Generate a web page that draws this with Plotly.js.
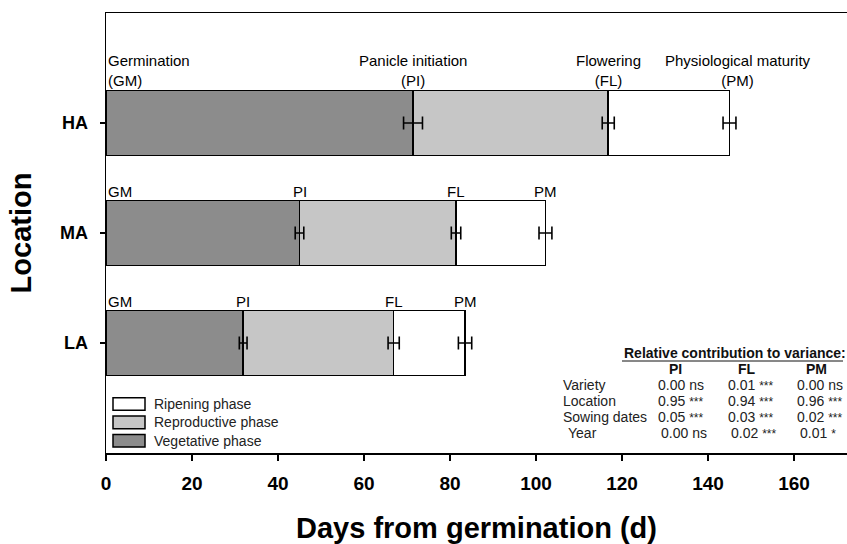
<!DOCTYPE html>
<html>
<head>
<meta charset="utf-8">
<script src="https://cdn.plot.ly/plotly-3.0.1.min.js"></script>
<style>
html,body{margin:0;padding:0;background:#fff;overflow:hidden;}
#chart{width:847px;height:544px;}
</style>
</head>
<body>
<div id="chart"></div>
<script>
// ---- data ----
const locations = ['HA', 'MA', 'LA'];
const piDays = [71.4, 45.0, 31.9];
const flDays = [116.8, 81.4, 66.9];
const pmDays = [145.0, 102.2, 83.5];
const piErr = [2.2, 1.0, 0.9];
const flErr = [1.4, 1.1, 1.3];
const pmErr = [1.5, 1.5, 1.55];
const phaseNames = ['Vegetative phase', 'Reproductive phase', 'Ripening phase'];
const stageNames = ['Germination', 'Panicle initiation', 'Flowering', 'Physiological maturity'];
const stageAbbr = ['GM', 'PI', 'FL', 'PM'];
const xTicks = [0, 20, 40, 60, 80, 100, 120, 140, 160];
const varSources = ['Variety', 'Location', 'Sowing dates', 'Year'];
const varStages = ['PI', 'FL', 'PM'];
const contribPI = [0.00, 0.95, 0.05, 0.00];
const contribFL = [0.01, 0.94, 0.03, 0.02];
const contribPM = [0.00, 0.96, 0.02, 0.01];
const sigPI = ['ns', '***', '***', 'ns'];
const sigFL = ['***', '***', '***', '***'];
const sigPM = ['ns', '***', '***', '*'];
const tableTitle = 'Relative contribution to variance:';

// ---- layout helpers (pixel geometry) ----
const W = 847, Hh = 544;
const mL = 106, mR = 0, mT = 13, mB = 91;
const pw = W - mL - mR, ph = Hh - mT - mB;
const px = x => (x - mL) / pw;
const py = y => (mT + ph - y) / ph;
const FONT = 'Liberation Sans, Arial, sans-serif';
const barW = 0.594;
const catIndex = {LA: 0, MA: 1, HA: 2};

const phaseColors = ['#8c8c8c', '#c6c6c6', '#ffffff'];
const sizes = [
  piDays,
  flDays.map((v, i) => v - piDays[i]),
  pmDays.map((v, i) => v - flDays[i])
];
const stageDays = [piDays, flDays, pmDays];
const errs = [piErr, flErr, pmErr];

const traces = phaseNames.map((name, k) => ({
  type: 'bar',
  orientation: 'h',
  name: name,
  y: locations,
  x: sizes[k],
  width: barW,
  marker: {color: phaseColors[k], line: {color: '#000', width: 1.5}},
  hoverinfo: 'x+y+name',
  showlegend: false
}));
// error bars at each stage end, drawn on top of the bars
stageAbbr.slice(1).forEach((ab, k) => {
  traces.push({
    type: 'scatter', mode: 'markers',
    name: ab,
    y: locations, x: stageDays[k],
    marker: {size: 1, color: 'rgba(0,0,0,0)'},
    error_x: {type: 'data', array: errs[k], visible: true, color: '#000', thickness: 1.6, width: 6.5},
    showlegend: false
  });
});

const annotations = [];
const shapes = [];
// stage labels above bars
locations.forEach((loc, i) => {
  const yTop = catIndex[loc] + barW / 2;
  const stageVals = [0, piDays[i], flDays[i], pmDays[i]];
  stageAbbr.forEach((ab, s) => {
    const first = (i === 0);
    const txt = first ? stageNames[s] + '<br>(' + ab + ')' : ab;
    annotations.push({
      xref: 'x', yref: 'y',
      x: stageVals[s], y: yTop,
      xanchor: s === 0 ? 'left' : 'center',
      yanchor: 'bottom',
      align: s === 0 ? 'left' : 'center',
      xshift: s === 0 ? 0 : (s === 3 && first ? 8 : 0),
      yshift: first ? -1 : -2,
      text: txt, showarrow: false,
      font: {family: FONT, size: 15, color: '#000'}
    });
  });
});

// legend (drawn manually to match the wide boxes)
const legRowY = [404, 422.4, 440.8];
phaseNames.slice().reverse().forEach((name, r) => {
  const k = phaseNames.length - 1 - r;
  shapes.push({
    type: 'rect', xref: 'paper', yref: 'paper',
    x0: px(113), x1: px(145), y0: py(legRowY[r] - 6.3), y1: py(legRowY[r] + 6.3),
    fillcolor: phaseColors[k], line: {color: '#000', width: 1.5}
  });
  annotations.push({
    xref: 'paper', yref: 'paper', x: px(152), y: py(legRowY[r]),
    xanchor: 'left', yanchor: 'middle', showarrow: false,
    text: name, font: {family: FONT, size: 14, color: '#222'}
  });
});

// variance table
const tFont = {family: FONT, size: 14, color: '#222'};
const titleX = 622;
annotations.push({
  xref: 'paper', yref: 'paper', x: px(titleX), y: py(353),
  xanchor: 'left', yanchor: 'middle', showarrow: false,
  text: '<b>' + tableTitle + '</b>',
  font: {family: FONT, size: 14, color: '#111'}
});
shapes.push({
  type: 'line', xref: 'paper', yref: 'paper',
  x0: px(titleX), x1: px(titleX + 221), y0: py(361), y1: py(361),
  line: {color: '#111', width: 1}
});
const colHeadX = [675, 747, 816];
const colValX = [656, 726, 795];
varStages.forEach((st, c) => {
  annotations.push({
    xref: 'paper', yref: 'paper', x: px(colHeadX[c]), y: py(369),
    xanchor: 'center', yanchor: 'middle', showarrow: false,
    text: '<b>' + st + '</b>', font: {family: FONT, size: 14, color: '#111'}
  });
});
const contribs = [contribPI, contribFL, contribPM];
const sigs = [sigPI, sigFL, sigPM];
const rowY = [385, 401, 417, 433];
varSources.forEach((src, r) => {
  annotations.push({
    xref: 'paper', yref: 'paper', x: px(src === 'Year' ? 566 : 561), y: py(rowY[r]),
    xanchor: 'left', yanchor: 'middle', showarrow: false,
    text: src, font: tFont
  });
  varStages.forEach((st, c) => {
    const sg = sigs[c][r];
    const sgTxt = sg === 'ns' ? 'ns' : '<span style="font-size:12px">' + sg + '</span>';
    annotations.push({
      xref: 'paper', yref: 'paper', x: px(colValX[c] + (src === 'Year' ? 3 : 0)), y: py(rowY[r]),
      xanchor: 'left', yanchor: 'middle', showarrow: false,
      text: contribs[c][r].toFixed(2) + ' ' + sgTxt, font: tFont
    });
  });
});

const layout = {
  width: W, height: Hh,
  margin: {l: mL, r: mR, t: mT, b: mB},
  paper_bgcolor: '#fff', plot_bgcolor: '#fff',
  barmode: 'stack',
  bargap: 0,
  showlegend: false,
  xaxis: {
    range: [0, (W - mL - mR) / 4.3],
    tickvals: xTicks, ticktext: xTicks.map(String),
    showgrid: false, zeroline: false,
    showline: true, linecolor: '#000', linewidth: 1.5, mirror: true,
    ticks: 'outside', ticklen: 6, tickwidth: 1.5, tickcolor: '#000',
    tickfont: {family: FONT, size: 19, color: '#000', weight: 'bold'},
    ticklabelstandoff: 7,
    title: {text: 'Days from germination (d)', standoff: 24,
            font: {family: FONT, size: 29, color: '#000', weight: 'bold'}}
  },
  yaxis: {
    type: 'category',
    categoryorder: 'array', categoryarray: ['LA', 'MA', 'HA'],
    range: [-1, 3],
    showgrid: false, zeroline: false,
    showline: true, linecolor: '#000', linewidth: 1.5, mirror: false,
    ticks: 'outside', ticklen: 5, tickwidth: 1.5, tickcolor: '#000',
    tickfont: {family: FONT, size: 18, color: '#000', weight: 'bold'},
    ticklabelstandoff: 8,
    title: {text: 'Location', standoff: 20,
            font: {family: FONT, size: 29, color: '#000', weight: 'bold'}}
  },
  annotations: annotations,
  shapes: shapes
};

Plotly.newPlot('chart', traces, layout, {displayModeBar: false, staticPlot: true});
</script>
</body>
</html>
